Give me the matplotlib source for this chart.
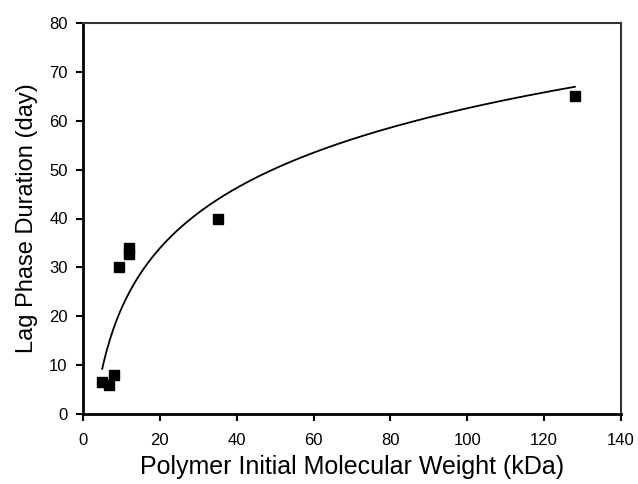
import numpy as np
import matplotlib
matplotlib.use("Agg")
import matplotlib.pyplot as plt

plt.rcParams['font.family'] = ['Liberation Sans', 'DejaVu Sans']

mw_kda = [5.0, 6.7, 8.0, 9.3, 12.0, 12.0, 35.0, 128.0]
lag_days = [6.6, 5.9, 7.9, 30.0, 33.9, 32.8, 40.0, 65.0]
x_ticks = [0, 20, 40, 60, 80, 100, 120, 140]
y_ticks = [0, 10, 20, 30, 40, 50, 60, 70, 80]

fig = plt.figure(figsize=(6.38, 4.84), dpi=100)
ax = fig.add_axes([83/638, 1 - 414/484, (621-83)/638, (414-23)/484])

# logarithmic regression curve
coef = np.polyfit(np.log(mw_kda), lag_days, 1)
xs = np.linspace(min(mw_kda), max(mw_kda), 300)
ax.plot(xs, coef[0]*np.log(xs) + coef[1], color='black', lw=1.3)

ax.plot(mw_kda, lag_days, 's', color='black', markersize=7.2, linestyle='none')

ax.set_xlim(0, 140)
ax.set_ylim(0, 80)
ax.set_xticks(x_ticks)
ax.set_yticks(y_ticks)
ax.tick_params(direction='out', length=5, width=1.5, labelsize=12)
ax.tick_params(axis='x', pad=9)
ax.tick_params(axis='y', pad=6)
for s in ['left', 'bottom']:
    ax.spines[s].set_linewidth(2)
for s in ['top', 'right']:
    ax.spines[s].set_linewidth(1.5)
    ax.spines[s].set_color('#333333')

ax.set_xlabel('Polymer Initial Molecular Weight (kDa)', fontsize=18, labelpad=5)
ax.set_ylabel('Lag Phase Duration (day)', fontsize=17, labelpad=8)

fig.savefig('out.png', dpi=100)
